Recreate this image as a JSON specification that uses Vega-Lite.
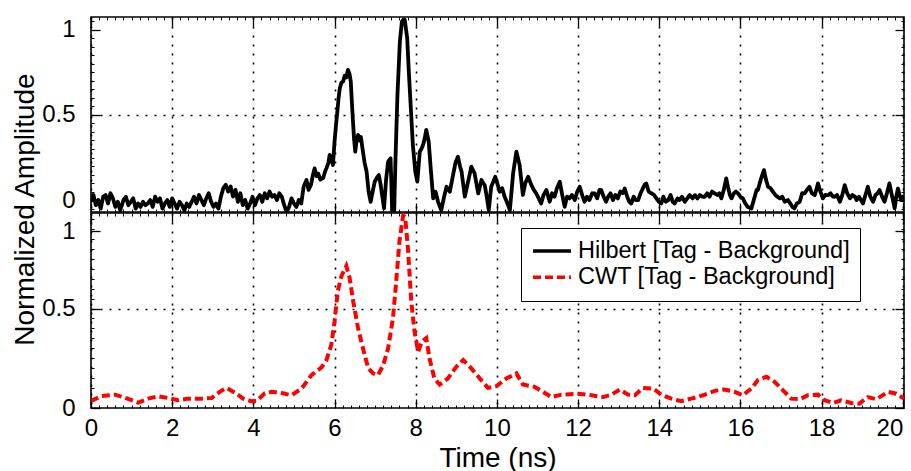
{
  "$schema": "https://vega.github.io/schema/vega-lite/v6.json",
  "padding": {"left": 10, "top": 15, "right": 5, "bottom": 0},
  "background": "white",
  "spacing": 1,
  "bounds": "flush",
  "config": {
    "font": "Liberation Sans, Arial, sans-serif",
    "view": {"stroke": "black", "strokeWidth": 1.6},
    "axis": {
      "domain": false,
      "labelFont": "Liberation Sans, Arial, sans-serif",
      "labelFontSize": 24,
      "labelColor": "black",
      "labelFlush": false,
      "tickColor": "black",
      "tickWidth": 1.3,
      "gridColor": "black",
      "gridDash": [2, 7],
      "gridWidth": 1.6,
      "titleFont": "Liberation Sans, Arial, sans-serif",
      "titleFontSize": 28,
      "titleFontWeight": "normal",
      "titleColor": "black"
    },
    "legend": {
      "labelFont": "Liberation Sans, Arial, sans-serif",
      "labelFontSize": 23.5,
      "labelColor": "black",
      "labelLimit": 600
    }
  },
  "datasets": {
    "hil": [
      {"t":0.00,"v":-0.01},{"t":0.06,"v":0.03},{"t":0.12,"v":-0.03},{"t":0.18,"v":0.00},{"t":0.24,"v":-0.05},{"t":0.30,"v":0.02},{"t":0.36,"v":0.03},{"t":0.42,"v":-0.02},{"t":0.48,"v":0.04},{"t":0.54,"v":0.01},{"t":0.60,"v":-0.04},{"t":0.66,"v":-0.01},{"t":0.72,"v":-0.06},{"t":0.80,"v":0.00},{"t":0.86,"v":0.02},{"t":0.92,"v":-0.03},{"t":0.98,"v":-0.01},{"t":1.04,"v":0.01},{"t":1.10,"v":-0.05},{"t":1.16,"v":-0.02},{"t":1.22,"v":-0.04},{"t":1.28,"v":-0.01},{"t":1.34,"v":-0.03},{"t":1.40,"v":-0.02},{"t":1.46,"v":0.00},{"t":1.52,"v":-0.04},{"t":1.58,"v":0.02},{"t":1.64,"v":-0.01},{"t":1.70,"v":0.01},{"t":1.76,"v":-0.05},{"t":1.82,"v":-0.02},{"t":1.88,"v":0.00},{"t":1.94,"v":-0.04},{"t":2.00,"v":0.01},{"t":2.06,"v":-0.02},{"t":2.12,"v":-0.05},{"t":2.18,"v":-0.01},{"t":2.24,"v":-0.03},{"t":2.30,"v":-0.06},{"t":2.36,"v":-0.02},{"t":2.42,"v":-0.04},{"t":2.48,"v":-0.01},{"t":2.54,"v":0.02},{"t":2.60,"v":-0.02},{"t":2.66,"v":0.03},{"t":2.72,"v":0.00},{"t":2.78,"v":-0.03},{"t":2.84,"v":0.01},{"t":2.90,"v":0.04},{"t":2.96,"v":-0.01},{"t":3.02,"v":-0.04},{"t":3.08,"v":-0.02},{"t":3.14,"v":-0.05},{"t":3.20,"v":0.02},{"t":3.26,"v":0.07},{"t":3.32,"v":0.09},{"t":3.38,"v":0.05},{"t":3.44,"v":0.08},{"t":3.50,"v":0.02},{"t":3.56,"v":0.06},{"t":3.62,"v":-0.01},{"t":3.68,"v":0.04},{"t":3.74,"v":-0.03},{"t":3.80,"v":0.00},{"t":3.86,"v":-0.05},{"t":3.92,"v":-0.02},{"t":3.98,"v":0.02},{"t":4.04,"v":-0.03},{"t":4.10,"v":0.01},{"t":4.16,"v":0.03},{"t":4.22,"v":-0.01},{"t":4.28,"v":0.04},{"t":4.34,"v":0.01},{"t":4.40,"v":0.05},{"t":4.46,"v":0.02},{"t":4.52,"v":0.03},{"t":4.58,"v":0.00},{"t":4.64,"v":0.04},{"t":4.70,"v":0.02},{"t":4.76,"v":-0.03},{"t":4.82,"v":-0.07},{"t":4.88,"v":-0.04},{"t":4.94,"v":0.01},{"t":5.00,"v":-0.02},{"t":5.06,"v":-0.04},{"t":5.12,"v":0.00},{"t":5.18,"v":-0.02},{"t":5.24,"v":0.08},{"t":5.31,"v":0.118},{"t":5.36,"v":0.06},{"t":5.42,"v":0.09},{"t":5.47,"v":0.15},{"t":5.51,"v":0.186},{"t":5.56,"v":0.14},{"t":5.60,"v":0.155},{"t":5.65,"v":0.12},{"t":5.72,"v":0.13},{"t":5.77,"v":0.17},{"t":5.80,"v":0.186},{"t":5.85,"v":0.22},{"t":5.88,"v":0.265},{"t":5.92,"v":0.24},{"t":5.96,"v":0.206},{"t":6.00,"v":0.343},{"t":6.04,"v":0.45},{"t":6.07,"v":0.52},{"t":6.10,"v":0.60},{"t":6.13,"v":0.656},{"t":6.17,"v":0.69},{"t":6.21,"v":0.696},{"t":6.25,"v":0.73},{"t":6.29,"v":0.72},{"t":6.33,"v":0.765},{"t":6.37,"v":0.74},{"t":6.40,"v":0.696},{"t":6.44,"v":0.52},{"t":6.48,"v":0.362},{"t":6.51,"v":0.284},{"t":6.55,"v":0.36},{"t":6.58,"v":0.382},{"t":6.62,"v":0.35},{"t":6.65,"v":0.37},{"t":6.70,"v":0.284},{"t":6.74,"v":0.22},{"t":6.79,"v":0.167},{"t":6.84,"v":0.049},{"t":6.89,"v":-0.01},{"t":6.94,"v":0.05},{"t":6.99,"v":0.108},{"t":7.04,"v":0.13},{"t":7.09,"v":0.147},{"t":7.13,"v":0.10},{"t":7.16,"v":0.049},{"t":7.22,"v":-0.049},{"t":7.27,"v":0.12},{"t":7.32,"v":0.225},{"t":7.38,"v":0.245},{"t":7.40,"v":0.10},{"t":7.42,"v":-0.069},{"t":7.47,"v":-0.069},{"t":7.50,"v":0.225},{"t":7.55,"v":0.618},{"t":7.61,"v":0.931},{"t":7.66,"v":1.049},{"t":7.70,"v":1.06},{"t":7.73,"v":1.058},{"t":7.79,"v":0.951},{"t":7.83,"v":0.755},{"t":7.88,"v":0.539},{"t":7.93,"v":0.323},{"t":7.99,"v":0.167},{"t":8.04,"v":0.108},{"t":8.10,"v":0.284},{"t":8.14,"v":0.30},{"t":8.18,"v":0.323},{"t":8.22,"v":0.36},{"t":8.26,"v":0.412},{"t":8.32,"v":0.343},{"t":8.37,"v":0.186},{"t":8.43,"v":0.01},{"t":8.49,"v":0.049},{"t":8.55,"v":-0.01},{"t":8.63,"v":-0.059},{"t":8.70,"v":0.02},{"t":8.76,"v":0.078},{"t":8.84,"v":0.049},{"t":8.92,"v":0.147},{"t":8.98,"v":0.22},{"t":9.04,"v":0.255},{"t":9.09,"v":0.20},{"t":9.13,"v":0.167},{"t":9.21,"v":0.02},{"t":9.29,"v":0.108},{"t":9.37,"v":0.196},{"t":9.45,"v":0.157},{"t":9.54,"v":0.039},{"t":9.62,"v":0.118},{"t":9.66,"v":0.10},{"t":9.70,"v":0.088},{"t":9.75,"v":0.02},{"t":9.80,"v":-0.059},{"t":9.86,"v":0.078},{"t":9.96,"v":0.137},{"t":10.02,"v":0.09},{"t":10.07,"v":0.049},{"t":10.13,"v":0.07},{"t":10.19,"v":0.02},{"t":10.26,"v":-0.02},{"t":10.32,"v":-0.059},{"t":10.40,"v":0.157},{"t":10.48,"v":0.284},{"t":10.56,"v":0.206},{"t":10.64,"v":0.03},{"t":10.70,"v":0.10},{"t":10.77,"v":0.137},{"t":10.85,"v":0.088},{"t":10.91,"v":0.06},{"t":10.97,"v":0.039},{"t":11.03,"v":0.01},{"t":11.09,"v":-0.02},{"t":11.15,"v":0.03},{"t":11.22,"v":0.059},{"t":11.30,"v":-0.01},{"t":11.36,"v":0.04},{"t":11.42,"v":0.02},{"t":11.48,"v":0.07},{"t":11.55,"v":0.108},{"t":11.61,"v":0.03},{"t":11.67,"v":-0.039},{"t":11.73,"v":0.02},{"t":11.79,"v":0.01},{"t":11.85,"v":0.03},{"t":11.92,"v":0.0},{"t":11.98,"v":0.05},{"t":12.04,"v":0.078},{"t":12.10,"v":0.03},{"t":12.16,"v":-0.01},{"t":12.22,"v":0.02},{"t":12.28,"v":0.00},{"t":12.35,"v":0.04},{"t":12.41,"v":0.039},{"t":12.47,"v":0.01},{"t":12.53,"v":0.06},{"t":12.57,"v":0.059},{"t":12.63,"v":0.02},{"t":12.69,"v":-0.01},{"t":12.74,"v":0.019},{"t":12.80,"v":0.04},{"t":12.86,"v":0.00},{"t":12.92,"v":0.03},{"t":12.98,"v":0.01},{"t":13.04,"v":0.05},{"t":13.10,"v":0.04},{"t":13.15,"v":0.068},{"t":13.21,"v":0.02},{"t":13.26,"v":-0.01},{"t":13.31,"v":-0.02},{"t":13.37,"v":0.02},{"t":13.42,"v":0.0},{"t":13.48,"v":0.0},{"t":13.54,"v":0.04},{"t":13.60,"v":0.07},{"t":13.64,"v":0.09},{"t":13.68,"v":0.098},{"t":13.74,"v":0.05},{"t":13.81,"v":0.039},{"t":13.87,"v":0.03},{"t":13.93,"v":0.01},{"t":13.99,"v":-0.01},{"t":14.05,"v":-0.02},{"t":14.10,"v":0.02},{"t":14.16,"v":-0.01},{"t":14.22,"v":0.00},{"t":14.28,"v":0.03},{"t":14.33,"v":-0.01},{"t":14.38,"v":-0.02},{"t":14.45,"v":0.01},{"t":14.50,"v":0.00},{"t":14.56,"v":0.02},{"t":14.63,"v":-0.01},{"t":14.69,"v":0.01},{"t":14.75,"v":0.03},{"t":14.82,"v":0.01},{"t":14.88,"v":0.029},{"t":14.94,"v":0.01},{"t":15.00,"v":0.03},{"t":15.06,"v":0.02},{"t":15.12,"v":0.019},{"t":15.18,"v":0.04},{"t":15.24,"v":0.02},{"t":15.30,"v":0.05},{"t":15.37,"v":0.039},{"t":15.43,"v":0.03},{"t":15.48,"v":0.04},{"t":15.53,"v":0.01},{"t":15.59,"v":0.06},{"t":15.65,"v":0.127},{"t":15.70,"v":0.07},{"t":15.74,"v":0.03},{"t":15.78,"v":0.01},{"t":15.84,"v":0.04},{"t":15.89,"v":0.05},{"t":15.94,"v":0.039},{"t":16.00,"v":0.02},{"t":16.06,"v":0.01},{"t":16.12,"v":-0.02},{"t":16.18,"v":-0.04},{"t":16.27,"v":-0.049},{"t":16.34,"v":0.01},{"t":16.40,"v":0.06},{"t":16.43,"v":0.059},{"t":16.50,"v":0.12},{"t":16.58,"v":0.176},{"t":16.63,"v":0.12},{"t":16.68,"v":0.078},{"t":16.74,"v":0.07},{"t":16.80,"v":0.049},{"t":16.86,"v":0.03},{"t":16.91,"v":0.02},{"t":16.97,"v":0.01},{"t":17.03,"v":0.02},{"t":17.09,"v":-0.01},{"t":17.17,"v":0.00},{"t":17.23,"v":-0.02},{"t":17.28,"v":-0.04},{"t":17.33,"v":-0.049},{"t":17.39,"v":-0.02},{"t":17.46,"v":-0.01},{"t":17.52,"v":0.04},{"t":17.58,"v":0.039},{"t":17.64,"v":0.06},{"t":17.70,"v":0.078},{"t":17.76,"v":0.04},{"t":17.83,"v":0.029},{"t":17.87,"v":0.06},{"t":17.91,"v":0.098},{"t":17.97,"v":0.05},{"t":18.03,"v":0.01},{"t":18.09,"v":0.03},{"t":18.16,"v":0.029},{"t":18.22,"v":0.04},{"t":18.28,"v":0.02},{"t":18.32,"v":0.019},{"t":18.38,"v":0.03},{"t":18.45,"v":-0.01},{"t":18.51,"v":0.03},{"t":18.57,"v":0.088},{"t":18.63,"v":0.04},{"t":18.70,"v":0.01},{"t":18.76,"v":0.03},{"t":18.82,"v":0.02},{"t":18.86,"v":0.0},{"t":18.92,"v":0.02},{"t":18.97,"v":0.0},{"t":19.02,"v":-0.02},{"t":19.08,"v":0.03},{"t":19.14,"v":0.078},{"t":19.20,"v":0.02},{"t":19.27,"v":-0.01},{"t":19.33,"v":0.03},{"t":19.38,"v":0.04},{"t":19.43,"v":0.059},{"t":19.49,"v":0.02},{"t":19.55,"v":-0.01},{"t":19.61,"v":0.04},{"t":19.67,"v":0.098},{"t":19.73,"v":0.03},{"t":19.80,"v":-0.049},{"t":19.84,"v":0.02},{"t":19.88,"v":0.068},{"t":19.92,"v":0.03},{"t":19.96,"v":0.0},{"t":20.00,"v":0.02},{"t":20.03,"v":-0.01}
    ],
    "cwt": [
      {"t":0.00,"v":0.035},{"t":0.26,"v":0.06},{"t":0.59,"v":0.067},{"t":0.79,"v":0.055},{"t":1.00,"v":0.039},{"t":1.16,"v":0.027},{"t":1.41,"v":0.047},{"t":1.65,"v":0.059},{"t":1.90,"v":0.05},{"t":2.15,"v":0.039},{"t":2.39,"v":0.047},{"t":2.72,"v":0.047},{"t":2.97,"v":0.05},{"t":3.17,"v":0.081},{"t":3.34,"v":0.101},{"t":3.54,"v":0.078},{"t":3.75,"v":0.047},{"t":3.95,"v":0.034},{"t":4.08,"v":0.035},{"t":4.28,"v":0.074},{"t":4.45,"v":0.081},{"t":4.73,"v":0.074},{"t":4.94,"v":0.064},{"t":5.19,"v":0.098},{"t":5.43,"v":0.165},{"t":5.68,"v":0.204},{"t":5.80,"v":0.241},{"t":5.92,"v":0.317},{"t":6.00,"v":0.435},{"t":6.08,"v":0.587},{"t":6.17,"v":0.663},{"t":6.29,"v":0.714},{"t":6.37,"v":0.656},{"t":6.46,"v":0.536},{"t":6.58,"v":0.401},{"t":6.70,"v":0.30},{"t":6.83,"v":0.199},{"t":6.95,"v":0.174},{"t":7.07,"v":0.165},{"t":7.20,"v":0.216},{"t":7.32,"v":0.30},{"t":7.44,"v":0.452},{"t":7.52,"v":0.638},{"t":7.60,"v":0.84},{"t":7.69,"v":0.967},{"t":7.74,"v":0.96},{"t":7.81,"v":0.798},{"t":7.89,"v":0.536},{"t":7.97,"v":0.385},{"t":8.06,"v":0.283},{"t":8.15,"v":0.334},{"t":8.26,"v":0.351},{"t":8.34,"v":0.25},{"t":8.46,"v":0.148},{"t":8.59,"v":0.118},{"t":8.79,"v":0.148},{"t":9.00,"v":0.207},{"t":9.17,"v":0.241},{"t":9.37,"v":0.199},{"t":9.58,"v":0.148},{"t":9.78,"v":0.101},{"t":9.99,"v":0.11},{"t":10.23,"v":0.148},{"t":10.48,"v":0.174},{"t":10.64,"v":0.118},{"t":10.93,"v":0.106},{"t":11.14,"v":0.081},{"t":11.34,"v":0.055},{"t":11.59,"v":0.067},{"t":12.00,"v":0.072},{"t":12.33,"v":0.064},{"t":12.62,"v":0.055},{"t":12.82,"v":0.067},{"t":13.03,"v":0.093},{"t":13.23,"v":0.067},{"t":13.40,"v":0.064},{"t":13.60,"v":0.101},{"t":13.85,"v":0.098},{"t":14.05,"v":0.067},{"t":14.30,"v":0.047},{"t":14.54,"v":0.034},{"t":14.79,"v":0.047},{"t":15.08,"v":0.064},{"t":15.37,"v":0.086},{"t":15.61,"v":0.093},{"t":15.86,"v":0.081},{"t":16.06,"v":0.064},{"t":16.27,"v":0.098},{"t":16.43,"v":0.14},{"t":16.64,"v":0.157},{"t":16.84,"v":0.132},{"t":17.05,"v":0.089},{"t":17.25,"v":0.047},{"t":17.46,"v":0.044},{"t":17.66,"v":0.064},{"t":17.91,"v":0.067},{"t":18.07,"v":0.039},{"t":18.28,"v":0.025},{"t":18.48,"v":0.039},{"t":18.73,"v":0.025},{"t":18.93,"v":0.022},{"t":19.14,"v":0.055},{"t":19.35,"v":0.044},{"t":19.63,"v":0.081},{"t":19.84,"v":0.072},{"t":20.03,"v":0.047}
    ]
  },
  "vconcat": [
    {
      "width": 813,
      "height": 195,
      "data": {"name": "hil"},
      "transform": [{"calculate": "'Hilbert [Tag - Background]'", "as": "series"}],
      "layer": [
        {
          "mark": {"type": "line", "strokeWidth": 3.8, "clip": true, "strokeJoin": "round"},
          "encoding": {
            "x": {"field": "t", "type": "quantitative",
              "scale": {"domain": [0, 20.03], "nice": false, "zero": false},
              "axis": {"orient": "bottom", "values": [0,2,4,6,8,10,12,14,16,18,20], "labels": false, "tickSize": -9, "grid": true, "title": null}},
            "y": {"field": "v", "type": "quantitative",
              "scale": {"domain": [-0.07, 1.075], "nice": false, "zero": false},
              "axis": {"orient": "left", "values": [0, 0.5, 1], "labelExpr": "format(datum.value, '~g')", "labelAlign": "right", "tickSize": -9, "labelPadding": 25, "grid": true,
                "gridOpacity": {"condition": {"test": "datum.value === 0.5", "value": 1}, "value": 0},
                "title": "Normalized Amplitude", "titleX": -58, "titleY": 192, "titleBaseline": "alphabetic", "titleAngle": 270}},
            "color": {"field": "series", "type": "nominal",
              "scale": {"domain": ["Hilbert [Tag - Background]", "CWT [Tag - Background]"], "range": ["black", "#ff0000"]},
              "legend": {"title": null, "orient": "none", "legendX": 430, "legendY": 211, "fillColor": "white", "strokeColor": "black", "padding": 10, "symbolType": "stroke", "symbolSize": 1444, "symbolStrokeWidth": 3.5, "symbolOffset": 0, "labelOffset": 5, "clipHeight": 26, "rowPadding": 0.3, "labelFontSize": 23.5, "labelLimit": 600}},
            "strokeDash": {"field": "series", "type": "nominal",
              "scale": {"domain": ["Hilbert [Tag - Background]", "CWT [Tag - Background]"], "range": [[1, 0], [8, 4]]},
              "legend": {"title": null, "orient": "none", "legendX": 430, "legendY": 211, "fillColor": "white", "strokeColor": "black", "padding": 10, "symbolType": "stroke", "symbolSize": 1444, "symbolStrokeWidth": 3.5, "symbolOffset": 0, "labelOffset": 5, "clipHeight": 26, "rowPadding": 0.3, "labelFontSize": 23.5, "labelLimit": 600}}
          }
        },
        {
          "mark": {"type": "line", "opacity": 0},
          "encoding": {
            "x": {"field": "t", "type": "quantitative",
              "axis": {"orient": "top", "values": [0,2,4,6,8,10,12,14,16,18,20], "labels": false, "tickSize": -9, "grid": false, "title": null}},
            "y": {"field": "v", "type": "quantitative",
              "axis": {"orient": "right", "values": [0, 0.5, 1], "labels": false, "tickSize": -9, "grid": false, "title": null}}
          }
        },
        {
          "mark": {"type": "line", "opacity": 0},
          "encoding": {
            "x": {"field": "t", "type": "quantitative",
              "axis": {"orient": "bottom", "values": [0.2,0.4,0.6,0.8,1.2,1.4,1.6,1.8,2.2,2.4,2.6,2.8,3.2,3.4,3.6,3.8,4.2,4.4,4.6,4.8,5.2,5.4,5.6,5.8,6.2,6.4,6.6,6.8,7.2,7.4,7.6,7.8,8.2,8.4,8.6,8.8,9.2,9.4,9.6,9.8,10.2,10.4,10.6,10.8,11.2,11.4,11.6,11.8,12.2,12.4,12.6,12.8,13.2,13.4,13.6,13.8,14.2,14.4,14.6,14.8,15.2,15.4,15.6,15.8,16.2,16.4,16.6,16.8,17.2,17.4,17.6,17.8,18.2,18.4,18.6,18.8,19.2,19.4,19.6,19.8,1,3,5,7,9,11,13,15,17,19], "labels": false, "tickSize": -3, "tickWidth": 1, "grid": false, "title": null}},
            "y": {"field": "v", "type": "quantitative",
              "axis": {"orient": "left", "values": [-0.05,0.05,0.1,0.15,0.2,0.25,0.3,0.35,0.4,0.45,0.55,0.6,0.65,0.7,0.75,0.8,0.85,0.9,0.95,1.05], "labels": false, "tickSize": -3, "tickWidth": 1, "grid": false, "title": null}}
          }
        },
        {
          "mark": {"type": "line", "opacity": 0},
          "encoding": {
            "x": {"field": "t", "type": "quantitative",
              "axis": {"orient": "top", "values": [0.2,0.4,0.6,0.8,1.2,1.4,1.6,1.8,2.2,2.4,2.6,2.8,3.2,3.4,3.6,3.8,4.2,4.4,4.6,4.8,5.2,5.4,5.6,5.8,6.2,6.4,6.6,6.8,7.2,7.4,7.6,7.8,8.2,8.4,8.6,8.8,9.2,9.4,9.6,9.8,10.2,10.4,10.6,10.8,11.2,11.4,11.6,11.8,12.2,12.4,12.6,12.8,13.2,13.4,13.6,13.8,14.2,14.4,14.6,14.8,15.2,15.4,15.6,15.8,16.2,16.4,16.6,16.8,17.2,17.4,17.6,17.8,18.2,18.4,18.6,18.8,19.2,19.4,19.6,19.8,1,3,5,7,9,11,13,15,17,19], "labels": false, "tickSize": -3, "tickWidth": 1, "grid": false, "title": null}},
            "y": {"field": "v", "type": "quantitative",
              "axis": {"orient": "right", "values": [-0.05,0.05,0.1,0.15,0.2,0.25,0.3,0.35,0.4,0.45,0.55,0.6,0.65,0.7,0.75,0.8,0.85,0.9,0.95,1.05], "labels": false, "tickSize": -3, "tickWidth": 1, "grid": false, "title": null}}
          }
        }
      ],
      "resolve": {"axis": {"x": "independent", "y": "independent"}}
    },
    {
      "width": 813,
      "height": 195,
      "data": {"name": "cwt"},
      "transform": [{"calculate": "'CWT [Tag - Background]'", "as": "series"}],
      "layer": [
        {
          "mark": {"type": "line", "strokeWidth": 4, "clip": true},
          "encoding": {
            "x": {"field": "t", "type": "quantitative",
              "scale": {"domain": [0, 20.03], "nice": false, "zero": false},
              "axis": {"orient": "bottom", "values": [0,2,4,6,8,10,12,14,16,18,20], "tickSize": -9, "labelPadding": 17, "grid": true,
                "labelAlign": {"condition": {"test": "datum.value === 20", "value": "right"}, "value": "center"},
                "title": "Time (ns)", "titlePadding": 4}},
            "y": {"field": "v", "type": "quantitative",
              "scale": {"domain": [0, 0.98], "nice": false, "zero": false},
              "axis": {"orient": "left", "values": [0, 0.5, 0.888], "labelAlign": "right", "tickSize": -9, "labelPadding": 25, "grid": true,
                "labelExpr": "datum.value > 0.8 ? '1' : format(datum.value, '~g')",
                "gridOpacity": {"condition": {"test": "datum.value === 0.5", "value": 1}, "value": 0},
                "title": null}},
            "color": {"field": "series", "type": "nominal",
              "scale": {"domain": ["Hilbert [Tag - Background]", "CWT [Tag - Background]"], "range": ["black", "#ff0000"]}},
            "strokeDash": {"field": "series", "type": "nominal",
              "scale": {"domain": ["Hilbert [Tag - Background]", "CWT [Tag - Background]"], "range": [[1, 0], [8, 4]]}}
          }
        },
        {
          "mark": {"type": "line", "opacity": 0},
          "encoding": {
            "x": {"field": "t", "type": "quantitative",
              "axis": {"orient": "top", "values": [0,2,4,6,8,10,12,14,16,18,20], "labels": false, "tickSize": -9, "grid": false, "title": null}},
            "y": {"field": "v", "type": "quantitative",
              "axis": {"orient": "right", "values": [0, 0.5, 0.888], "labels": false, "tickSize": -9, "grid": false, "title": null}}
          }
        },
        {
          "mark": {"type": "line", "opacity": 0},
          "encoding": {
            "x": {"field": "t", "type": "quantitative",
              "axis": {"orient": "bottom", "values": [0.2,0.4,0.6,0.8,1.2,1.4,1.6,1.8,2.2,2.4,2.6,2.8,3.2,3.4,3.6,3.8,4.2,4.4,4.6,4.8,5.2,5.4,5.6,5.8,6.2,6.4,6.6,6.8,7.2,7.4,7.6,7.8,8.2,8.4,8.6,8.8,9.2,9.4,9.6,9.8,10.2,10.4,10.6,10.8,11.2,11.4,11.6,11.8,12.2,12.4,12.6,12.8,13.2,13.4,13.6,13.8,14.2,14.4,14.6,14.8,15.2,15.4,15.6,15.8,16.2,16.4,16.6,16.8,17.2,17.4,17.6,17.8,18.2,18.4,18.6,18.8,19.2,19.4,19.6,19.8,1,3,5,7,9,11,13,15,17,19], "labels": false, "tickSize": -3, "tickWidth": 1, "grid": false, "title": null}},
            "y": {"field": "v", "type": "quantitative",
              "axis": {"orient": "left", "values": [0.05,0.1,0.15,0.2,0.25,0.3,0.35,0.4,0.45,0.55,0.6,0.65,0.7,0.75,0.8,0.85,0.9,0.95], "labels": false, "tickSize": -3, "tickWidth": 1, "grid": false, "title": null}}
          }
        },
        {
          "mark": {"type": "line", "opacity": 0},
          "encoding": {
            "x": {"field": "t", "type": "quantitative",
              "axis": {"orient": "top", "values": [0.2,0.4,0.6,0.8,1.2,1.4,1.6,1.8,2.2,2.4,2.6,2.8,3.2,3.4,3.6,3.8,4.2,4.4,4.6,4.8,5.2,5.4,5.6,5.8,6.2,6.4,6.6,6.8,7.2,7.4,7.6,7.8,8.2,8.4,8.6,8.8,9.2,9.4,9.6,9.8,10.2,10.4,10.6,10.8,11.2,11.4,11.6,11.8,12.2,12.4,12.6,12.8,13.2,13.4,13.6,13.8,14.2,14.4,14.6,14.8,15.2,15.4,15.6,15.8,16.2,16.4,16.6,16.8,17.2,17.4,17.6,17.8,18.2,18.4,18.6,18.8,19.2,19.4,19.6,19.8,1,3,5,7,9,11,13,15,17,19], "labels": false, "tickSize": -3, "tickWidth": 1, "grid": false, "title": null}},
            "y": {"field": "v", "type": "quantitative",
              "axis": {"orient": "right", "values": [0.05,0.1,0.15,0.2,0.25,0.3,0.35,0.4,0.45,0.55,0.6,0.65,0.7,0.75,0.8,0.85,0.9,0.95], "labels": false, "tickSize": -3, "tickWidth": 1, "grid": false, "title": null}}
          }
        }
      ],
      "resolve": {"axis": {"x": "independent", "y": "independent"}}
    }
  ]
}
